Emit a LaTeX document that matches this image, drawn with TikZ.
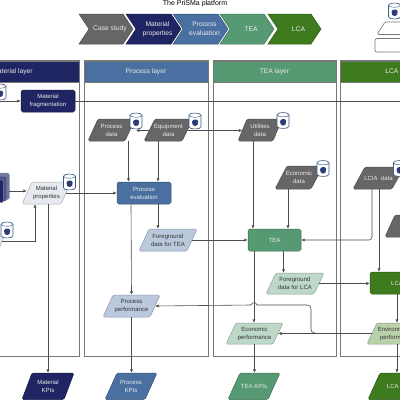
\documentclass[tikz,border=0pt]{standalone}
\usepackage{fontspec}
\setmainfont{Liberation Sans}
\usetikzlibrary{arrows.meta,calc}
\definecolor{navy}{HTML}{1F2462}
\definecolor{blu}{HTML}{4A70A2}
\definecolor{grn}{HTML}{559A72}
\definecolor{dgrn}{HTML}{3E7A1E}
\definecolor{gry}{HTML}{666666}
\definecolor{lblu}{HTML}{BBC9DD}
\definecolor{lgrn}{HTML}{BDD8C8}
\definecolor{lolv}{HTML}{BAD2AC}
\definecolor{lgry}{HTML}{E6E9EE}
\definecolor{edge}{HTML}{777777}
\tikzset{
 lab/.style={font=\fontsize{6}{8}\selectfont,align=center,inner sep=0pt},
 wht/.style={lab,text=white!92!black},
 blk/.style={lab,text=black!80},
 big/.style={font=\fontsize{6.7}{8.6}\selectfont},
 pane/.style={draw=edge,line width=0.7pt},
 conn/.style={draw=black!70,line width=0.6pt,-{Latex[length=3.4pt,width=3.2pt]}},
 plain/.style={draw=black!70,line width=0.6pt},
 box/.style={draw=black!70,line width=0.5pt,rounded corners=1.8pt},
 pg/.style={line width=0.5pt,rounded corners=1.5pt},
}
\newcommand\pgram[9]{%
 \path[pg,fill=#7,draw=#7!75!black] (#2+#6,#4)--(#3,#4)--(#3-#6,#5)--(#2,#5)--cycle;
 \pgfmathsetmacro\pw{#3-#2-#6}\pgfmathsetmacro\ph{#5-#4}
 \node[#8,minimum width=\pw pt,minimum height=\ph pt] (#1) at ({(#2+#3)/2},{(#4+#5)/2}) {#9};}
\newcommand\rbox[7]{%
 \pgfmathsetmacro\pw{#3-#2}\pgfmathsetmacro\ph{#5-#4}
 \node[box,fill=#6,draw=#6!70!black,wht,minimum width=\pw pt,minimum height=\ph pt] (#1) at ({(#2+#3)/2},{(#4+#5)/2}) {#7};}
\newcommand\dbicon[2]{%
 \begin{scope}[shift={(#1,#2)}]
 \path[fill=white,draw=blu!80!black,line width=0.6pt] (0,2.2) -- (0,13.8) .. controls (0,16.7) and (12,16.7) .. (12,13.8) -- (12,2.2) .. controls (12,-0.7) and (0,-0.7) .. (0,2.2) -- cycle;
 \path[draw=blu!80!black,line width=0.45pt] (0,2.2) .. controls (0,5) and (12,5) .. (12,2.2);
 \path[fill=navy!70!blu] (3,9) .. controls (3,6) and (9,5.5) .. (9.2,8.5) .. controls (9.5,11.5) and (8,13.5) .. (6,13) .. controls (4,13) and (3,11.5) .. (3,9) -- cycle;
 \end{scope}}
\newcommand\chev[6]{%
 \path[fill=#5,draw=#5!75!black,line width=0.5pt] (#2,14)--(#3-10,14)--(#3,29)--(#3-10,44)--(#2,44)--(#2+10,29)--cycle;
 \node[wht,big] (#1) at ({(#2+#3)/2+4},29) {#6};}
\begin{document}
\begin{tikzpicture}[x=1pt,y=-1pt]
\useasboundingbox (0,0) rectangle (400,400);
\clip (0,0) rectangle (400,400);
\fill[white] (0,0) rectangle (400,400);

\node[blk,big,text=black,font=\fontsize{7}{8}\selectfont] (title) at (195,4) {The PriSMa platform};
\chev{c1}{79}{133}{29}{gry}{Case study}
\chev{c2}{126}{181}{29}{navy}{Material\\properties}
\chev{c3}{173}{228}{29}{blu}{Process\\evaluation}
\chev{c4}{220}{274}{29}{grn}{TEA}
\chev{c5}{268}{321}{29}{dgrn}{LCA}

\path[draw=edge,fill=white,line width=0.6pt,rounded corners=1.5pt] (385,22)--(420,22)--(410,34.5)--(377,34.5)--cycle;
\path[draw=edge,fill=white,line width=0.7pt,rounded corners=2pt] (375,38.5) rectangle (420,52);
\dbicon{388.5}{3}

\draw[pane] (-45,60.5) rectangle (79.5,356);
\draw[pane] (84,60.5) rectangle (208,356);
\draw[pane] (213,60.5) rectangle (336,356);
\draw[pane] (340.5,60.5) rectangle (470,356);
\node[draw=edge,fill=navy,wht,minimum width=124.5pt,minimum height=21.5pt] (hm) at (17.25,71.5) {};
\node[wht,big] (hmt) at (12.5,72) {Material layer};
\node[draw=edge,fill=blu,wht,big,minimum width=124pt,minimum height=21.5pt] (hp) at (146,71.5) {Process layer};
\node[draw=edge,fill=grn,wht,big,minimum width=123pt,minimum height=21.5pt] (ht) at (274.5,71.5) {TEA layer};
\node[draw=edge,fill=dgrn,wht,minimum width=129.5pt,minimum height=21.5pt] (hl) at (405.25,71.5) {};
\node[wht,big] (hlt) at (400,72) {LCA layer};

\rbox{mf}{21}{75}{90}{112}{navy}{Material\\fragmentation}
\path[fill=navy!62!white,draw=navy!50,line width=0.4pt,rounded corners=2pt] (-10,173) rectangle (9.3,199.5);
\path[fill=navy!78!white,rounded corners=1pt] (-10,176.5) rectangle (6.3,201);
\path[fill=navy,draw=white!70!navy,line width=0.3pt,rounded corners=1pt] (-10,180) rectangle (3.3,202.5);
\pgram{mp}{22}{71}{182}{204}{10}{lgry}{blk}{Material\\properties}
\pgram{lm}{-25}{5}{234}{249}{6}{lgry}{blk}{}
\pgram{pd}{88}{135}{119}{141}{10}{gry}{wht}{Process\\data}
\pgram{ed}{144}{193}{119}{141}{11}{gry}{wht}{Equipment\\data}
\pgram{ud}{238}{282}{119}{141}{9}{gry}{wht}{Utilities\\data}
\pgram{ec}{275}{323}{166}{189}{12}{gry}{wht}{Economic\\data}
\pgram{lc}{353}{404}{167}{189}{12}{gry}{wht}{LCIA\ \ data}
\pgram{ld}{385}{445}{215}{237}{10}{gry}{wht}{}
\rbox{pe}{117}{171}{182}{204}{blu}{Process\\evaluation}
\rbox{te}{248}{301}{229}{251}{grn}{TEA}
\rbox{la}{370}{424}{272}{294}{dgrn}{LCA}
\pgram{ft}{139}{197}{229}{251}{10}{lblu}{blk}{Foreground\\data for TEA}
\pgram{fl}{266}{324}{273}{294}{10}{lgrn}{blk}{Foreground\\data for LCA}
\pgram{pp}{103}{160}{295}{317}{10}{lblu}{blk}{Process\\performance}
\pgram{ep}{226}{283}{323}{344}{10}{lgrn}{blk}{Economic\\performance}
\pgram{en}{367}{427}{323}{344}{10}{lolv}{blk}{Environmental\\performance}
\pgram{mk}{22}{74}{373}{399.5}{10}{navy}{wht}{Material\\KPIs}
\pgram{pk}{105}{157}{373}{399.5}{12}{blu}{wht}{Process\\KPIs}
\pgram{tk}{228}{280}{373}{399.5}{12}{grn}{wht}{TEA KPIs}
\pgram{lk}{368}{432}{373}{399.5}{12}{dgrn}{wht}{LCA KPIs}

\coordinate (fragin) at (0,101);
\coordinate (offr) at (400,101);
\coordinate (stk) at (9,191);
\coordinate (j1) at (315,333);

\draw[conn] (fragin) -- (mf.west);
\draw[plain] (mf.east) -- (offr);
\draw[conn] (stk) -- (stk -| mp.west);
\draw[conn] (mp.east) -- (pe.west);
\draw[conn] (lm.east |- 0,241) -| ([xshift=-11.5]mp.south);
\draw[conn] (mk.north |- mp.south) -- (mk.north);
\draw[conn] ([xshift=17]pd.south) -- ([xshift=17]pd.south |- pe.north);
\draw[conn] ([xshift=-10.5]ed.south) -- ([xshift=-10.5]ed.south |- pe.north);
\draw[conn] ([yshift=-0.5]ed.west) -- ([yshift=-0.5]ed.west -| 136,0);
\draw[conn] ([yshift=-0.5]ed.east) -- ([yshift=-0.5]ed.east -| ud.west);
\draw[conn] ([xshift=-7]ud.south) -- ([xshift=-7]ud.south |- te.north);
\draw[conn] ([xshift=-11]ec.south) -- ([xshift=-11]ec.south |- te.north);
\draw[conn,rounded corners=3pt] ([xshift=-6.5]lc.south) |- (te.east);
\draw[conn] ([xshift=0.5]lc.south) -- ([xshift=0.5]lc.south |- la.north);
\draw[conn] ([xshift=12]ld.south) -- ([xshift=12]ld.south |- la.north);
\draw[conn] ([xshift=-13]pe.south) -- (pp.north);
\draw[conn] ([xshift=14]pe.south) -- ([xshift=14]pe.south |- ft.north);
\draw[conn] (ft.east) -- (te.west);
\draw[conn] ([xshift=9]te.south) -- ([xshift=9]te.south |- fl.north);
\draw[conn] ([xshift=-20.5]te.south) -- ([xshift=-20.5]te.south |- ep.north);
\draw[conn] (fl.east) -- (fl.east -| la.west);
\draw[conn] (la.south) -- (la.south |- en.north);
\draw[conn] (en.west) -- (ep.east);
\draw[conn] (pp.south) -- (pp.south |- pk.north);
\draw[conn] (ep.south) -- (ep.south |- tk.north);
\draw[conn] (en.south) -- (en.south |- lk.north);
\draw[conn] (j1) .. controls (312,333) and (311,331) .. (311,329) -- (311,309) .. controls (311,306) and (310,305) .. (307,305) -- (257,305) .. controls (256.5,302) and (251.5,302) .. (251,305) -- (pp.east);

\dbicon{-6}{84}
\dbicon{63.5}{174}
\dbicon{1}{222}
\dbicon{130}{113}
\dbicon{189}{113}
\dbicon{277}{112.5}
\dbicon{317}{160.5}
\dbicon{393.5}{160.5}
\end{tikzpicture}
\end{document}
